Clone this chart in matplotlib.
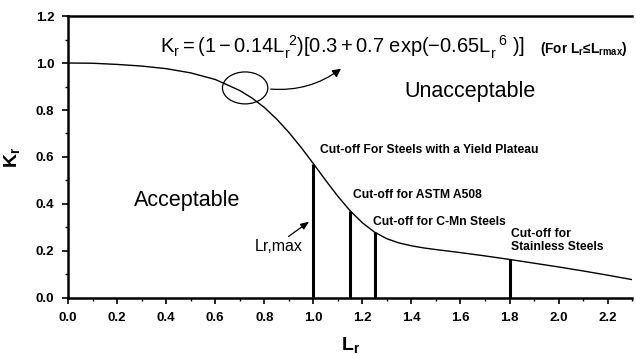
import matplotlib
matplotlib.use("Agg")
import matplotlib.pyplot as plt
from matplotlib.patches import Ellipse, FancyArrowPatch
from matplotlib.ticker import MultipleLocator

# Failure assessment curve, Kr against Lr
lr = [0.0, 0.1, 0.2, 0.3, 0.4, 0.5, 0.6, 0.7, 0.75, 0.8, 0.85, 0.9, 0.95,
      1.0, 1.05, 1.1, 1.15, 1.2, 1.25, 1.3, 1.35, 1.4, 1.45, 1.5, 1.6,
      1.7, 1.8, 1.9, 2.0, 2.1, 2.2, 2.3]
kr = [1.000, 0.999, 0.994, 0.987, 0.976, 0.958, 0.930, 0.883, 0.851, 0.811,
      0.762, 0.705, 0.641, 0.572, 0.501, 0.433, 0.371, 0.320, 0.280, 0.252,
      0.234, 0.222, 0.213, 0.206, 0.193, 0.179, 0.164, 0.148, 0.132, 0.115,
      0.097, 0.078]

# Lr,max cut-offs for different materials
cut_lr = [1.0, 1.15, 1.25, 1.8]
cut_kr = [0.572, 0.371, 0.280, 0.164]
cut_labels = ["Cut-off For Steels with a Yield Plateau",
              "Cut-off for ASTM A508",
              "Cut-off for C-Mn Steels",
              "Cut-off for\nStainless Steels"]

x_ticks = [0.0, 0.2, 0.4, 0.6, 0.8, 1.0, 1.2, 1.4, 1.6, 1.8, 2.0, 2.2]
y_ticks = [0.0, 0.2, 0.4, 0.6, 0.8, 1.0, 1.2]

plt.rcParams["font.family"] = ["Liberation Sans", "DejaVu Sans"]
plt.rcParams["mathtext.fontset"] = "custom"
plt.rcParams["mathtext.rm"] = "Liberation Sans"
plt.rcParams["mathtext.it"] = "Liberation Sans"
plt.rcParams["mathtext.bf"] = "Liberation Sans:bold"

fig = plt.figure(figsize=(6.36, 3.56), dpi=100)
ax = fig.add_axes([0.107, 0.163, 0.887, 0.792])

ax.plot(lr, kr, color="black", lw=1.0)
ax.vlines(cut_lr, 0, cut_kr, color="black", lw=2.2)

ax.set_xlim(0, 2.3)
ax.set_ylim(0, 1.2)
ax.set_xticks(x_ticks)
ax.set_yticks(y_ticks)
ax.xaxis.set_minor_locator(MultipleLocator(0.1))
ax.yaxis.set_minor_locator(MultipleLocator(0.1))
ax.set_xticklabels([f"{v:.1f}" for v in x_ticks], fontweight="bold", fontsize=9.5)
ax.set_yticklabels([f"{v:.1f}" for v in y_ticks], fontweight="bold", fontsize=9.5)
ax.tick_params(which="major", direction="out", length=4, width=1.2, pad=6)
ax.tick_params(which="minor", direction="out", length=2.5, width=1.0)

for side in ["left", "bottom", "top"]:
    ax.spines[side].set_linewidth(1.8)
ax.spines["right"].set_visible(False)

ax.set_xlabel(r"$\mathbf{L_r}$", fontsize=14, labelpad=8)
ax.set_ylabel(r"$\mathbf{K_r}$", fontsize=14, labelpad=10)

# Equation of the curve
ax.text(0.376, 1.068,
        r"$\mathrm{K_r = (1 - 0.14L_r^{\ 2})[0.3 + 0.7\ exp(-0.65L_r^{\ \ 6}\ )]}$",
        fontsize=14.5, ha="left", va="center")
ax.text(1.925, 1.058, r"(For L$_\mathbf{r}$≤L$_\mathbf{rmax}$)",
        fontsize=9.8, fontweight="bold", ha="left", va="center")

# Ellipse marking the curve, with a curved pointer to the equation
ax.add_patch(Ellipse((0.722, 0.894), 0.185, 0.136, fill=False,
                     edgecolor="black", lw=0.9))
ax.add_patch(FancyArrowPatch((0.815, 0.89), (1.122, 0.983),
                             connectionstyle="arc3,rad=0.2",
                             arrowstyle="-|>,head_length=5,head_width=2.5",
                             color="black", lw=0.9))

ax.text(1.64, 0.877, "Unacceptable", fontsize=15.5, ha="center", va="center")
ax.text(0.486, 0.413, "Acceptable", fontsize=15.5, ha="center", va="center")

ax.text(0.857, 0.221, "Lr,max", fontsize=11.5, ha="center", va="center")
ax.annotate("", xy=(0.992, 0.332), xytext=(0.89, 0.255),
            arrowprops=dict(arrowstyle="-|>,head_length=0.5,head_width=0.2",
                            color="black", lw=0.9))

label_pos = [(1.029, 0.63), (1.163, 0.438), (1.245, 0.323), (1.804, 0.243)]
for (x, y), text in zip(label_pos, cut_labels):
    ax.text(x, y, text, fontsize=8.7, fontweight="bold", ha="left",
            va="center", linespacing=1.1)

fig.savefig("out.png", dpi=100)
